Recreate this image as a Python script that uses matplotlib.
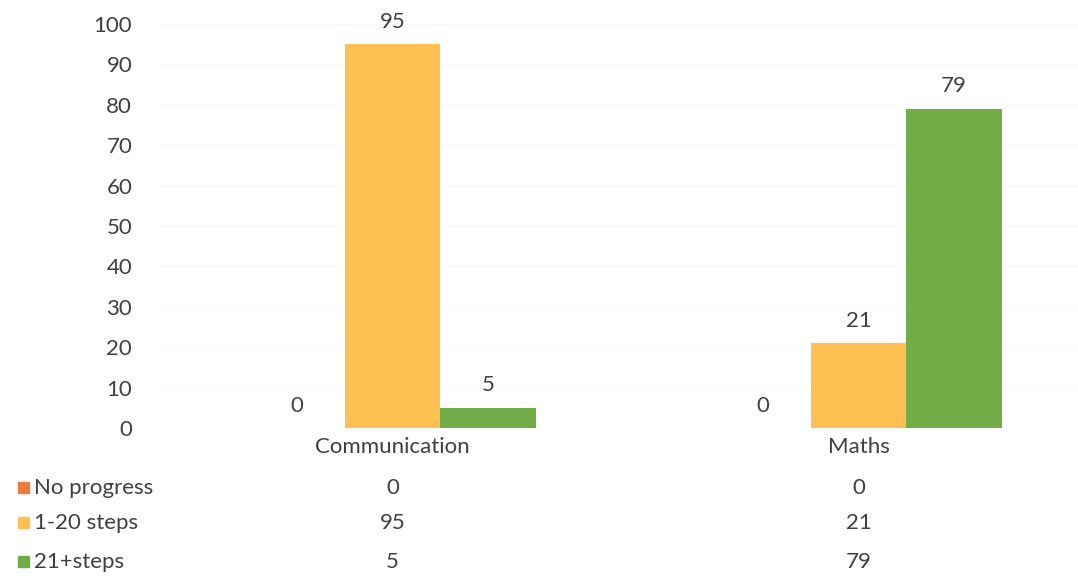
import matplotlib.pyplot as plt
from matplotlib.patches import Rectangle
from matplotlib.transforms import blended_transform_factory
import numpy as np

categories = ['Communication', 'Maths']
series_names = ['No progress', '1-20 steps', '21+steps']
no_progress = [0, 0]
steps_1_20 = [95, 21]
steps_21_plus = [5, 79]
y_ticks = [0, 10, 20, 30, 40, 50, 60, 70, 80, 90, 100]

colors = ['#EC7A3E', '#FEC052', '#70AD47']
text_color = '#404040'
fs = 16

plt.rcParams['font.family'] = ['Lato', 'DejaVu Sans']

W, H = 1078, 578
fig = plt.figure(figsize=(W / 100, H / 100), dpi=100)
ax = fig.add_axes([160 / W, (H - 428) / H, (W - 160) / W, (428 - 24) / H])

x = np.arange(len(categories))
width = 0.205
all_series = [no_progress, steps_1_20, steps_21_plus]
for i, (vals, col) in enumerate(zip(all_series, colors)):
    bars = ax.bar(x + (i - 1) * width, vals, width, color=col, zorder=2)
    ax.bar_label(bars, labels=[str(v) for v in vals], padding=9,
                 fontsize=fs, color=text_color)

ax.set_xlim(-0.499, 1.471)
ax.set_ylim(0, 100)
ax.set_yticks(y_ticks)
ax.tick_params(axis='y', length=0, pad=20, labelsize=fs, labelcolor=text_color)
ax.set_xticks([])
ax.grid(axis='y', color='#f8f8f8', linewidth=0.8, zorder=0)
for s in ax.spines.values():
    s.set_visible(False)

# data table under the axis
trans = blended_transform_factory(ax.transData, fig.transFigure)
for xi, name in zip(x, categories):
    fig.text(xi, 1 - 447 / H, name, transform=trans, ha='center', va='center',
             fontsize=fs, color=text_color)

row_y = [488, 523, 562]
for name, vals, col, yy in zip(series_names, all_series, colors, row_y):
    fy = 1 - yy / H
    fig.patches.append(Rectangle((18 / W, fy - 5 / H), 11 / W, 11 / H,
                                 transform=fig.transFigure, color=col))
    fig.text(34 / W, fy, name, ha='left', va='center', fontsize=fs,
             color=text_color)
    for xi, v in zip(x, vals):
        fig.text(xi, fy, str(v), transform=trans, ha='center', va='center',
                 fontsize=fs, color=text_color)

fig.savefig('out.png', dpi=100)
